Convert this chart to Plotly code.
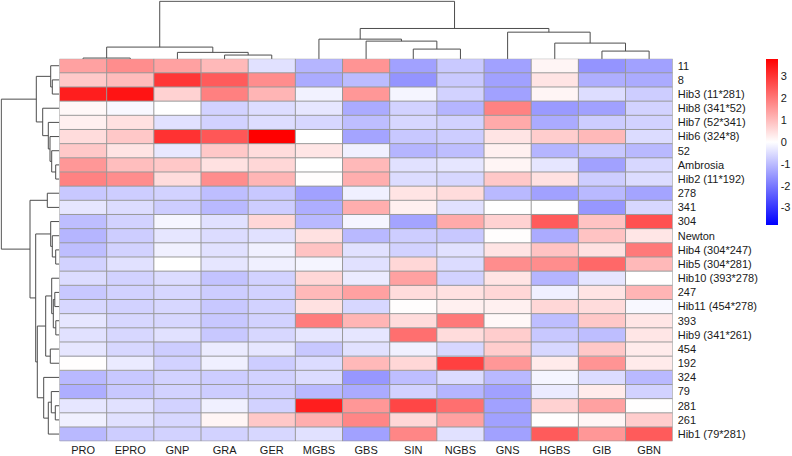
import plotly.graph_objects as go

# ---------------- data ----------------
col_labels = ["PRO", "EPRO", "GNP", "GRA", "GER", "MGBS", "GBS", "SIN", "NGBS", "GNS", "HGBS", "GIB", "GBN"]
row_labels = ["11", "8", "Hib3 (11*281)", "Hib8 (341*52)", "Hib7 (52*341)", "Hib6 (324*8)", "52", "Ambrosia",
              "Hib2 (11*192)", "278", "341", "304", "Newton", "Hib4 (304*247)", "Hib5 (304*281)",
              "Hib10 (393*278)", "247", "Hib11 (454*278)", "393", "Hib9 (341*261)", "454", "192", "324", "79",
              "281", "261", "Hib1 (79*281)"]

z_values = [
    [1.4, 1.7, 1.4, 1.05, -0.45, -1.1, 1.6, -1.4, -0.8, -1.4, 0.15, -1.6, -1.4],
    [0.8, 1.0, 3.0, 2.45, 1.7, -1.25, -1.0, -1.6, -0.8, -1.4, 0.4, -1.2, -1.25],
    [3.35, 3.5, 0.67, 1.9, 1.1, -0.2, 1.55, -0.15, -0.67, -1.4, 0.15, -0.5, -0.75],
    [0.1, -0.1, 0.0, -0.67, -0.5, -0.37, -1.25, -0.67, -1.1, 1.86, -1.5, -1.4, -0.67],
    [0.22, 0.45, -0.45, -0.67, -0.5, -0.6, -0.97, -0.6, -0.67, 1.27, -1.25, -0.75, -0.67],
    [0.52, 0.82, 3.05, 2.5, 3.8, 0.0, -1.35, -0.82, -0.75, 0.4, 0.75, 1.05, -0.52],
    [0.82, 0.4, -0.35, 0.82, 0.52, 0.37, -0.22, -1.1, -0.97, 0.22, -1.1, -0.82, -1.05],
    [1.55, 0.97, 0.82, 0.45, 0.6, 0.0, 1.05, -0.45, -0.37, 0.15, -0.37, -1.4, -0.6],
    [1.86, 1.7, 0.52, 1.7, 1.1, 0.03, 1.2, -0.52, -0.6, 0.82, 0.45, -0.75, -0.52],
    [-0.82, -0.75, -0.67, -0.97, -0.82, -1.4, -0.22, 0.4, 0.52, -1.05, -1.4, -1.05, -1.35],
    [-0.37, -0.52, -0.75, -1.05, -0.75, -1.2, 1.2, 0.22, -0.45, 0.0, 0.0, -1.55, -0.6],
    [-0.97, -0.67, -0.15, -0.45, 0.6, -1.05, -0.15, -1.35, 1.27, 0.67, 2.45, 0.9, 2.6],
    [-1.1, -0.75, -0.37, -0.52, -0.45, 0.45, -1.05, -0.75, -0.82, 0.03, -1.25, 0.9, 0.37],
    [-0.97, -0.67, -0.22, -0.45, -0.22, 0.9, -0.45, -0.67, -0.45, 0.4, 0.9, 0.45, 2.0],
    [-0.67, -0.45, 0.0, -0.37, -0.22, -0.15, -0.45, 0.6, -0.52, 1.7, 1.7, 2.25, 1.05],
    [-0.52, -0.67, -0.52, -0.9, -0.67, 0.6, -0.3, 1.4, -0.67, 0.4, -1.1, -0.37, 0.0],
    [-0.82, -0.67, -0.6, -0.75, -0.67, 1.05, 1.4, 0.52, 0.45, 0.6, -0.22, 0.4, 1.1],
    [-0.6, -0.67, -0.6, -0.82, -0.67, 0.45, -0.6, 0.03, 0.22, 0.22, 0.6, 0.52, -0.1],
    [-0.37, -0.6, -0.6, -0.82, -0.67, 1.95, 1.1, 0.52, 2.0, 0.1, -0.97, 0.82, 0.37],
    [-0.45, -0.6, -0.45, -0.82, -0.6, -0.37, -0.37, 2.15, 0.52, 0.75, -0.82, -0.97, 0.37],
    [-0.37, -0.6, -0.75, -0.3, -0.37, -0.82, -0.45, -0.22, -0.6, 0.75, -0.6, 0.82, 0.3],
    [0.02, -0.3, -0.67, -0.22, -0.75, -0.52, 1.05, 0.6, 2.85, 1.55, 0.3, 1.6, 0.3],
    [-1.05, -0.82, -0.67, -0.75, -0.67, -0.52, -1.55, -0.97, -0.52, -1.05, -0.15, -0.52, -1.05],
    [-1.2, -0.82, -0.67, -0.75, -0.75, -1.05, -1.25, -0.67, -1.1, -1.4, -0.3, 0.3, -0.67],
    [-0.37, -0.45, -0.67, -0.22, -0.67, 3.35, 1.55, 2.75, 2.15, -1.4, 0.67, 1.4, 0.02],
    [-0.22, -0.45, -0.6, 0.15, 0.82, 1.2, 1.8, 0.6, 1.4, -1.4, 0.02, 0.15, 0.75],
    [-1.05, -0.75, -0.67, -0.67, -0.6, -0.45, -1.4, 1.8, -0.45, -1.4, 2.45, 1.55, 2.45],
]

# linkage-style merges (child_a, child_b, height); leaves are 0..n-1, new clusters n, n+1, ...
col_merges = [
    (0, 1, 1.0), (3, 4, 4.0), (2, 14, 6.7), (13, 15, 12.0),
    (7, 8, 10.0), (6, 17, 18.0), (5, 18, 20.0),
    (11, 12, 8.0), (10, 20, 16.0), (9, 21, 27.0),
    (19, 22, 30.7), (16, 23, 58.0),
]
row_merges = [
    (1, 2, 7.0), (0, 27, 8.6),
    (7, 8, 3.6), (6, 29, 7.6), (5, 30, 9.3), (4, 31, 11.0), (3, 32, 16.6),
    (28, 33, 23.0),
    (9, 10, 12.0),
    (13, 14, 3.6), (12, 36, 7.0), (11, 37, 8.6),
    (16, 17, 4.5), (18, 19, 3.5), (39, 40, 6.0), (15, 41, 7.6), (20, 21, 9.0), (42, 43, 13.6),
    (24, 25, 4.0), (23, 45, 8.0), (46, 26, 11.0), (22, 47, 15.6),
    (44, 48, 22.0), (38, 49, 23.6), (35, 50, 29.3), (34, 51, 58.0),
]
zmin_val, zmax_val = -3.8, 3.8
cbar_ticks = [-3, -2, -1, 0, 1, 2, 3]
cbar_ticktext = ["-3", "-2", "-1", "0", "1", "2", "3"]

# ---------------- layout helpers ----------------
W, H = 792, 456
hm_left, hm_right = 59.5, 672.7
hm_top, hm_bottom = 58.9, 443.1
FONT = "Arial, 'Liberation Sans', sans-serif"
TXT = "#1a1a1a"
DEND = "#4d4d4d"
BORDER = "#999999"


def fx(p):
    return p / W


def fy(p):
    return 1 - p / H


def dendro_segments(n, merges):
    pos = {i: float(i) for i in range(n)}
    hgt = {i: 0.0 for i in range(n)}
    P, Hh = [], []
    for k, (a, b, h) in enumerate(merges):
        P += [pos[a], pos[a], pos[b], pos[b], None]
        Hh += [hgt[a], h, h, hgt[b], None]
        nid = n + k
        pos[nid] = (pos[a] + pos[b]) / 2
        hgt[nid] = h
    return P, Hh


nr, nc = len(row_labels), len(col_labels)

fig = go.Figure()
fig.add_trace(go.Heatmap(
    z=z_values, x=list(range(nc)), y=list(range(nr)),
    colorscale=[[0, "rgb(0,0,255)"], [0.5, "rgb(255,255,255)"], [1, "rgb(255,0,0)"]],
    zmin=zmin_val, zmax=zmax_val, xaxis="x", yaxis="y",
    hoverinfo="skip",
    colorbar=dict(
        x=fx(765.7), xanchor="left", y=fy(59.3), yanchor="top",
        thickness=12, thicknessmode="pixels",
        len=(225.7 - 59.3) / H, lenmode="fraction",
        outlinewidth=0, ticks="", ticklen=0, tickmode="array",
        tickvals=cbar_ticks, ticktext=cbar_ticktext,
        tickfont=dict(family=FONT, size=11, color=TXT),
        xpad=0, ypad=0,
    ),
))

cp, ch = dendro_segments(nc, col_merges)
fig.add_trace(go.Scatter(x=cp, y=ch, mode="lines", line=dict(color=DEND, width=1),
                         xaxis="x2", yaxis="y2", hoverinfo="skip", showlegend=False))
rp, rh = dendro_segments(nr, row_merges)
fig.add_trace(go.Scatter(x=rh, y=rp, mode="lines", line=dict(color=DEND, width=1),
                         xaxis="x3", yaxis="y3", hoverinfo="skip", showlegend=False))

shapes = []
for i in range(nc + 1):
    shapes.append(dict(type="line", xref="x", yref="y", x0=i - 0.5, x1=i - 0.5, y0=-0.5, y1=nr - 0.5,
                       line=dict(color=BORDER, width=1), layer="above"))
for j in range(nr + 1):
    shapes.append(dict(type="line", xref="x", yref="y", x0=-0.5, x1=nc - 0.5, y0=j - 0.5, y1=j - 0.5,
                       line=dict(color=BORDER, width=1), layer="above"))

fig.update_layout(
    width=W, height=H, margin=dict(l=0, r=0, t=0, b=0),
    paper_bgcolor="white", plot_bgcolor="white",
    font=dict(family=FONT, size=11, color=TXT),
    showlegend=False, shapes=shapes,
    xaxis=dict(domain=[fx(hm_left), fx(hm_right)], range=[-0.5, nc - 0.5], anchor="y",
               tickvals=list(range(nc)), ticktext=col_labels, ticks="", ticklabelstandoff=1,
               showgrid=False, zeroline=False, showline=False,
               tickfont=dict(family=FONT, size=11, color=TXT)),
    yaxis=dict(domain=[fy(hm_bottom), fy(hm_top)], range=[nr - 0.5, -0.5], anchor="x", side="right",
               tickvals=list(range(nr)), ticktext=row_labels, ticks="", ticklabelstandoff=4,
               showgrid=False, zeroline=False, showline=False,
               tickfont=dict(family=FONT, size=11, color=TXT)),
    xaxis2=dict(domain=[fx(hm_left), fx(hm_right)], range=[-0.5, nc - 0.5], anchor="y2", visible=False),
    yaxis2=dict(domain=[fy(59.3), fy(0.3)], range=[0, 59], anchor="x2", visible=False),
    xaxis3=dict(domain=[fx(0.3), fx(59.3)], range=[59, 0], anchor="y3", visible=False),
    yaxis3=dict(domain=[fy(hm_bottom), fy(hm_top)], range=[nr - 0.5, -0.5], anchor="x3", visible=False),
)

fig.write_html("out.html")
